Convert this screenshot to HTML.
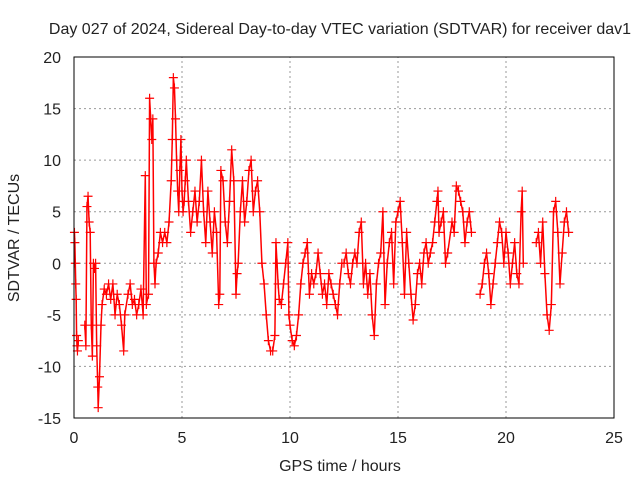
<!DOCTYPE html>
<html><head><meta charset="utf-8"><style>
body{margin:0;background:#fff;}
svg text{font-family:"Liberation Sans",sans-serif;font-size:16px;fill:#222;}
</style></head><body>
<svg id="c" width="640" height="480" xmlns="http://www.w3.org/2000/svg">
<text x="340" y="34" text-anchor="middle">Day 027 of 2024, Sidereal Day-to-day VTEC variation (SDTVAR) for receiver dav1</text>
<text x="340" y="471" text-anchor="middle">GPS time / hours</text>
<text transform="translate(19,238) rotate(-90)" text-anchor="middle">SDTVAR / TECUs</text>
<g id="grid"></g>
<g id="ticks"></g>
<g id="series"></g>
<rect x="74" y="57" width="540" height="361" fill="none" stroke="#000" stroke-width="1"/>
</svg>
<script>
const xTicks=[0,5,10,15,20,25];
const yTicks=[-15,-10,-5,0,5,10,15,20];
const times=[0.02,0.04,0.06,0.08,0.1,0.12,0.14,0.16,0.2,0.5,0.55,0.6,0.65,0.7,0.75,0.8,0.85,0.9,0.95,1.0,1.05,1.1,1.12,1.18,1.25,1.3,1.4,1.5,1.6,1.7,1.8,1.9,2.0,2.1,2.2,2.3,2.35,2.5,2.6,2.7,2.8,2.9,3.0,3.1,3.2,3.3,3.35,3.45,3.5,3.55,3.6,3.65,3.7,3.75,3.8,3.9,4.0,4.1,4.2,4.3,4.4,4.5,4.55,4.6,4.65,4.7,4.75,4.8,4.85,4.9,4.95,5.0,5.05,5.1,5.15,5.2,5.3,5.4,5.5,5.6,5.7,5.8,5.9,6.0,6.1,6.2,6.3,6.4,6.5,6.6,6.7,6.75,6.8,6.9,7.0,7.1,7.2,7.3,7.4,7.5,7.55,7.6,7.7,7.8,7.9,8.0,8.1,8.2,8.3,8.4,8.5,8.6,8.7,8.8,8.9,9.0,9.1,9.2,9.3,9.35,9.4,9.45,9.5,9.6,9.7,9.8,9.9,9.95,10.0,10.1,10.2,10.3,10.4,10.5,10.6,10.7,10.8,10.9,11.0,11.1,11.2,11.3,11.4,11.5,11.6,11.7,11.8,11.9,12.0,12.1,12.2,12.3,12.4,12.5,12.6,12.7,12.8,12.9,13.0,13.1,13.2,13.3,13.4,13.5,13.6,13.7,13.8,13.9,14.0,14.1,14.2,14.3,14.4,14.5,14.6,14.7,14.8,14.9,15.0,15.1,15.2,15.3,15.4,15.5,15.6,15.7,15.8,15.9,16.0,16.1,16.2,16.3,16.4,16.5,16.6,16.7,16.8,16.85,16.9,17.0,17.1,17.2,17.3,17.5,17.6,17.7,17.8,17.9,18.0,18.1,18.2,18.3,18.4,18.8,18.9,19.0,19.1,19.2,19.3,19.4,19.5,19.6,19.7,19.8,19.9,20.0,20.1,20.2,20.3,20.4,20.5,20.6,20.7,20.75,20.8,21.4,21.5,21.6,21.7,21.8,21.9,22.0,22.1,22.2,22.3,22.4,22.5,22.6,22.7,22.8,22.9];
const values=[3,2,0,-2,-3.5,-7,-8,-8.5,-7.5,-6,-8,5.5,6.5,4,3,-6,-9,0,-0.5,0,-8,-12,-14,-11,-6,-4,-2.5,-3,-2,-3.5,-2,-5,-3,-4,-6,-8.5,-5,-3,-2,-4,-3.5,-5,-4,-2.5,-5,8.5,-4,-3,16,14,12,14,0,-2,0,1,3,2,3,2,4,8,12,18,17,14,10,7,5,9,12,7,5,6,8,10,6,3,5,7,4,6,10,5,2,7,4,1,5,3,-4,-3,9,8,4,2,6,11,8,-3,-1,0,5,8,4,6,9,10,5,7,8,5,0,-2,-5,-7.5,-8.5,-8.5,-7,2,0,-2,-3.5,-4,-2,0,2,-5,-6,-7.5,-8,-7,-5,-2,0,1,2,-3,-1,-2,-1,1,-1,-3,-2,-4,-1,-2,-3,-4,-5,-2,0,0,1,-1,-2,0,1,0,3,4,-2,0,-3,-1,-5,-7,-2,0,1,5,-4,0,2,3,-2,4,5,6,2,-3,3,0,-3,-5.5,-4,-1,0,-2,1,2,0,1,2,4,6,7,3,4,5,0,1,4,3,7.5,7,6,5,2,4,5,3,-3,-2,0,1,-1,-4,-2,0,2,4,3,0,3,1,-2,0,2,-1,-2,5,7,0,2,3,0,4,-1,-5,-6.5,-4,5,6,3,-2,1,4,5,3];
const NS='http://www.w3.org/2000/svg';
const X0=74,X1=614,Y0=418,Y1=57;
function sx(t){return X0+(t-0)/(25-0)*(X1-X0);}
function sy(v){return Y0-(v+15)/(35)*(Y0-Y1);}
const grid=document.getElementById('grid'),tk=document.getElementById('ticks'),ser=document.getElementById('series');
function mk(tag,a,p){const e=document.createElementNS(NS,tag);for(const k in a)e.setAttribute(k,a[k]);p.appendChild(e);return e;}
xTicks.forEach(t=>{
  if(t>0&&t<25){const l=mk('line',{x1:sx(t),x2:sx(t),y1:Y0,y2:Y1,stroke:'#999','stroke-dasharray':'2,3'},grid);
  
  }
  const tx=mk('text',{x:sx(t),y:443,'text-anchor':'middle'},tk);tx.textContent=t;
  
  
});
yTicks.forEach(v=>{
  if(v>-15&&v<20){const l=mk('line',{x1:X0,x2:X1,y1:sy(v),y2:sy(v),stroke:'#999','stroke-dasharray':'2,3'},grid);
  
  }
  const tx=mk('text',{x:61,y:sy(v)+6,'text-anchor':'end'},tk);tx.textContent=v;
  
  
});
let d='';
for(let i=0;i<times.length;i++){
  const x=sx(times[i]),y=sy(values[i]);
  if(i>0&&times[i]-times[i-1]<0.3)d+='L'+x+' '+y;else d+='M'+x+' '+y;
}
const pl=mk('path',{d:d,fill:'none',stroke:'#f00','stroke-width':1.5},ser);


let m='';
for(let i=0;i<times.length;i++){
  const x=sx(times[i]),y=sy(values[i]);
  m+='M'+(x-4.5)+' '+y+'h9M'+x+' '+(y-4.5)+'v9';
}
const pm=mk('path',{d:m,fill:'none',stroke:'#f00','stroke-width':1.2},ser);


</script>
</body></html>
